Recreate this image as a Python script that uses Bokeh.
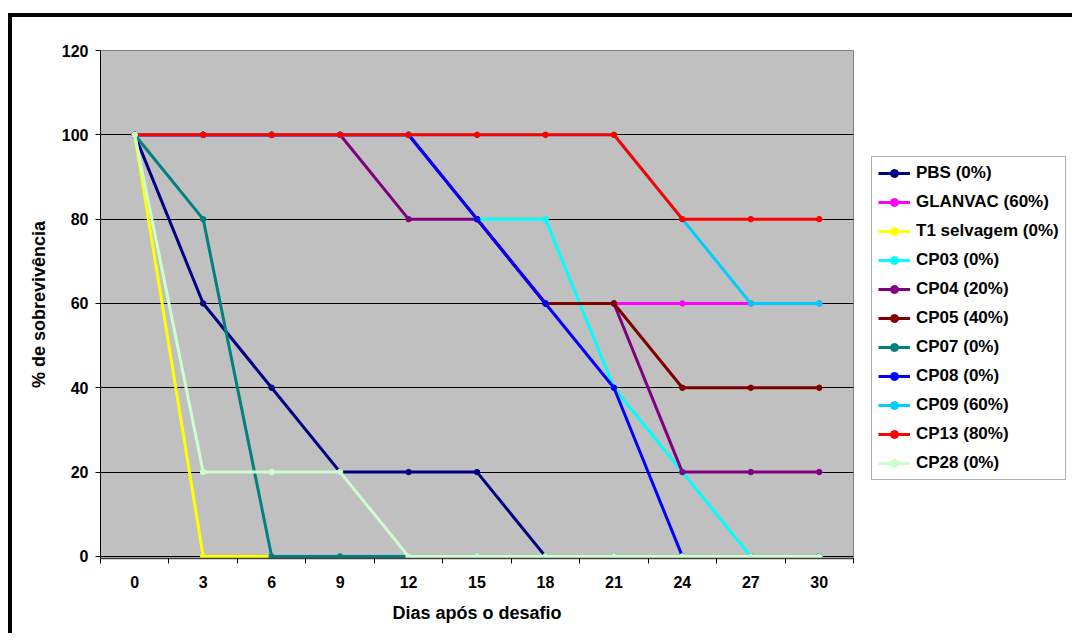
from bokeh.plotting import figure
from bokeh.models import FixedTicker, Legend, LegendItem, Range1d
from bokeh.embed import file_html
from bokeh.resources import INLINE

days = ["0", "3", "6", "9", "12", "15", "18", "21", "24", "27", "30"]

pbs = [100, 60, 40, 20, 20, 20, 0, 0, 0, 0, 0]
glanvac = [100, 100, 100, 100, 100, 80, 60, 60, 60, 60, 60]
t1 = [100, 0, 0, 0, 0, 0, 0, 0, 0, 0, 0]
cp03 = [100, 100, 100, 100, 100, 80, 80, 40, 20, 0, 0]
cp04 = [100, 100, 100, 100, 80, 80, 60, 60, 20, 20, 20]
cp05 = [100, 100, 100, 100, 100, 80, 60, 60, 40, 40, 40]
cp07 = [100, 80, 0, 0, 0, 0, 0, 0, 0, 0, 0]
cp08 = [100, 100, 100, 100, 100, 80, 60, 40, 0, 0, 0]
cp09 = [100, 100, 100, 100, 100, 100, 100, 100, 80, 60, 60]
cp13 = [100, 100, 100, 100, 100, 100, 100, 100, 80, 80, 80]
cp28 = [100, 20, 20, 20, 0, 0, 0, 0, 0, 0, 0]

series_names = ["PBS (0%)", "GLANVAC (60%)", "T1 selvagem (0%)", "CP03 (0%)",
                "CP04 (20%)", "CP05 (40%)", "CP07 (0%)", "CP08 (0%)",
                "CP09 (60%)", "CP13 (80%)", "CP28 (0%)"]
series_values = [pbs, glanvac, t1, cp03, cp04, cp05, cp07, cp08, cp09, cp13, cp28]
series_colors = ["#000080", "#FF00FF", "#FFFF00", "#00FFFF", "#800080", "#800000",
                 "#008080", "#0000FF", "#00CCFF", "#FF0000", "#CCFFCC"]

y_ticks = [0, 20, 40, 60, 80, 100, 120]

FONT = "Liberation Sans"

xs = list(range(len(days)))

p = figure(output_backend="svg", toolbar_location=None,
           frame_width=753, frame_height=508,
           x_range=Range1d(-0.5, len(days) - 0.5), y_range=Range1d(-0.5, 120),
           min_border_left=88, min_border_top=33, min_border_bottom=75,
           min_border_right=211)
p.styles = {"border-top": "4px solid black", "border-left": "4px solid black",
            "margin-top": "13px", "margin-left": "8px"}

p.background_fill_color = "#C0C0C0"
p.border_fill_color = "white"
p.outline_line_color = "#808080"
p.outline_line_width = 1

# grid
p.xgrid.visible = False
p.ygrid.ticker = FixedTicker(ticks=y_ticks)
p.ygrid.grid_line_color = "black"
p.ygrid.grid_line_width = 1

# x axis
p.xaxis.ticker = FixedTicker(ticks=xs, minor_ticks=[i - 0.5 for i in range(len(days) + 1)])
p.xaxis.major_label_overrides = {i: d for i, d in enumerate(days)}
p.xaxis.major_tick_out = 0
p.xaxis.major_tick_in = 0
p.xaxis.minor_tick_out = 5
p.xaxis.minor_tick_in = 0
p.xaxis.minor_tick_line_color = "black"
p.xaxis.axis_line_color = "#404040"
p.xaxis.axis_line_width = 1.5
p.xaxis.major_label_standoff = 12
p.xaxis.axis_label = "Dias após o desafio"
p.xaxis.axis_label_standoff = 12

# y axis
p.yaxis.ticker = FixedTicker(ticks=y_ticks)
p.yaxis.minor_tick_line_color = None
p.yaxis.major_tick_out = 5
p.yaxis.major_tick_in = 0
p.yaxis.major_tick_line_color = "black"
p.yaxis.axis_line_color = "black"
p.yaxis.major_label_standoff = 7
p.yaxis.axis_label = "% de sobrevivência"
p.yaxis.axis_label_standoff = 10

for ax in (p.xaxis, p.yaxis):
    ax.major_label_text_font = FONT
    ax.major_label_text_font_style = "bold"
    ax.major_label_text_font_size = "16px"
    ax.major_label_text_color = "black"
    ax.axis_label_text_font = FONT
    ax.axis_label_text_font_style = "bold"
    ax.axis_label_text_font_size = "18px"
    ax.axis_label_text_color = "black"

items = []
for name, vals, col in zip(series_names, series_values, series_colors):
    r1 = p.line(xs, vals, line_color=col, line_width=3)
    r2 = p.scatter(xs, vals, marker="circle", size=5.5, fill_color=col, line_color=col)
    items.append(LegendItem(label=name, renderers=[r1, r2]))

legend = Legend(items=items, location=(18, 78))
legend.margin = 0
legend.padding = 6
legend.spacing = 9
legend.glyph_height = 20
legend.label_height = 20
legend.glyph_width = 32
legend.label_standoff = 6
legend.label_text_font = FONT
legend.label_text_font_style = "bold"
legend.label_text_font_size = "17px"
legend.label_text_color = "black"
legend.border_line_color = "#606060"
legend.border_line_width = 1
legend.background_fill_color = "white"
p.add_layout(legend, "right")

open("out.html", "w").write(file_html(p, INLINE))
